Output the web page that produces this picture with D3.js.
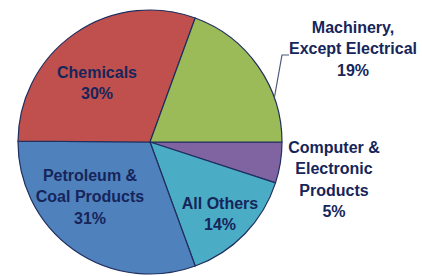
<!DOCTYPE html>
<html>
<head>
<meta charset="utf-8">
<script src="https://cdn.jsdelivr.net/npm/d3@7"></script>
<style>
  html, body { margin: 0; padding: 0; background: #fff; }
  svg { display: block; }
</style>
</head>
<body>
<script>
// Data, clockwise from 3 o'clock
var categories = ["Computer & Electronic Products", "All Others", "Petroleum & Coal Products", "Chemicals", "Machinery, Except Electrical"];
// slice sizes (labels show rounded values)
var shares = [5.0, 14.4, 30.6, 30.4, 19.4];
var shareLabels = ["5%", "14%", "31%", "30%", "19%"];
var colors = ["#8064a2", "#4bacc6", "#4f81bd", "#c0504d", "#9bbb59"];
// label lines for each slice (name part)
var labelLines = [
    ["Computer &", "Electronic", "Products"],
    ["All Others"],
    ["Petroleum &", "Coal Products"],
    ["Chemicals"],
    ["Machinery,", "Except Electrical"]
];

var svgWidth = 422, svgHeight = 276;
var cx = 150, cy = 142, radius = 132;
var textColor = "#16255a";

var svg = d3.select("body").append("svg")
    .attr("width", svgWidth)
    .attr("height", svgHeight);

var g = svg.append("g")
    .attr("transform", "translate(" + cx + "," + cy + ")");

var pie = d3.pie()
    .sort(null)
    .startAngle(Math.PI / 2)
    .endAngle(Math.PI / 2 + 2 * Math.PI)
    .value(function(d) { return d; });

var arc = d3.arc().innerRadius(0).outerRadius(radius);

var arcs = pie(shares);

g.selectAll(".slice")
    .data(arcs)
    .enter().append("path")
    .attr("class", "slice")
    .attr("d", arc)
    .attr("fill", function(d, i) { return colors[i]; })
    .attr("stroke", "#1f2f5f")
    .attr("stroke-width", 1.2)
    .attr("stroke-linejoin", "round");

// label positions (inside or outside the pie)
var labelPos = [
    {x: 334, y: 147},
    {x: 220, y: 203},
    {x: 90, y: 175},
    {x: 97, y: 72},
    {x: 353, y: 27}
];
var lineHeight = 21.5;

// leader line for Machinery label
var a = arcs[4].startAngle + (arcs[4].endAngle - arcs[4].startAngle) * 0.72;
var px = cx + Math.sin(a) * radius;
var py = cy - Math.cos(a) * radius;
svg.append("path")
    .attr("d", "M" + px + "," + py + "L282,55L289,55")
    .attr("fill", "none")
    .attr("stroke", "#4a5878")
    .attr("stroke-width", 1.2);

labelLines.forEach(function(lines, i) {
    var t = svg.append("text")
        .attr("text-anchor", "middle")
        .attr("font-family", "'Liberation Sans Narrow', 'Arial Narrow', sans-serif")
        .attr("font-weight", "bold")
        .attr("font-size", 16)
        .attr("fill", textColor);
    lines.concat([shareLabels[i]]).forEach(function(s, j) {
        t.append("tspan")
            .attr("x", labelPos[i].x)
            .attr("y", labelPos[i].y + j * lineHeight)
            .attr("dy", "0.35em")
            .text(s);
    });
});
</script>
</body>
</html>
